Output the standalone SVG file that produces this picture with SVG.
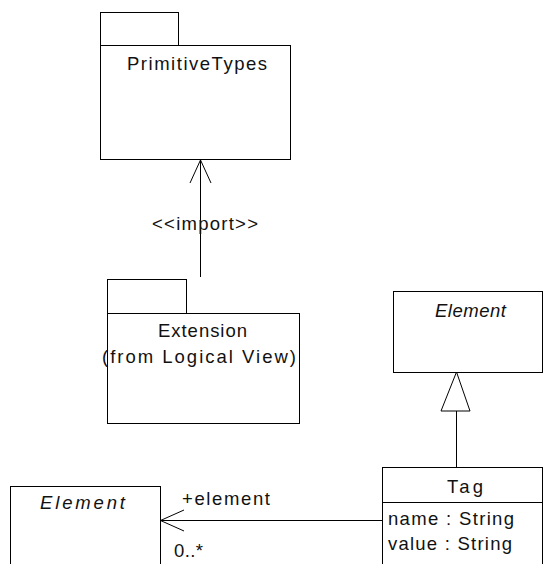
<svg xmlns="http://www.w3.org/2000/svg" width="543" height="564" viewBox="0 0 543 564">
<style>
.s{fill:#fff;stroke:#000;stroke-width:1}
.l{fill:none;stroke:#000;stroke-width:1}
text{font-family:"Liberation Sans",Arial,sans-serif;font-size:18.5px;fill:#111}
.i{font-style:italic}
</style>
<rect width="543" height="564" fill="#fff"/>
<g id="connectors">
<g id="import">
<line class="l" x1="200.5" y1="160" x2="200.5" y2="277"/>
<polyline class="l" points="190,183 200.5,160 211,183"/>
<text x="152" y="230" textLength="106" lengthAdjust="spacing">&lt;&lt;import&gt;&gt;</text>
</g>
<g id="generalization">
<line class="l" x1="456.5" y1="411" x2="456.5" y2="467"/>
<polygon class="s" points="456.5,372 441,411 470,411"/>
</g>
<g id="association">
<line class="l" x1="160" y1="520.5" x2="382" y2="520.5"/>
<polyline class="l" points="184,510 160.5,520.5 184,531"/>
<text x="182" y="505" textLength="88" lengthAdjust="spacing">+element</text>
<text x="174" y="557" textLength="29" lengthAdjust="spacing">0..*</text>
</g>
</g>
<g id="PrimitiveTypes">
<rect class="s" x="100.5" y="12.5" width="78" height="33"/>
<rect class="s" x="100.5" y="45.5" width="190" height="114"/>
<text x="127" y="70" textLength="140" lengthAdjust="spacing">PrimitiveTypes</text>
</g>
<g id="Extension">
<rect class="s" x="107.5" y="279.5" width="79" height="34"/>
<rect class="s" x="107.5" y="313.5" width="192" height="110"/>
<text x="158" y="337" textLength="89" lengthAdjust="spacing">Extension</text>
<text x="102" y="363" textLength="194" lengthAdjust="spacing">(from Logical View)</text>
</g>
<g id="ElementRight">
<rect class="s" x="393.5" y="291.5" width="149" height="81"/>
<text class="i" x="435" y="317" textLength="71" lengthAdjust="spacing">Element</text>
</g>
<g id="Tag">
<rect class="s" x="382.5" y="467.5" width="160" height="110"/>
<line class="l" x1="382.5" y1="502.5" x2="542.5" y2="502.5"/>
<text x="447" y="493" textLength="36" lengthAdjust="spacing">Tag</text>
<text x="388" y="525" textLength="126" lengthAdjust="spacing">name : String</text>
<text x="388" y="550" textLength="124" lengthAdjust="spacing">value : String</text>
</g>
<g id="ElementLeft">
<rect class="s" x="10.5" y="486.5" width="150" height="90"/>
<text class="i" x="40" y="509" textLength="85" lengthAdjust="spacing">Element</text>
</g>
</svg>
